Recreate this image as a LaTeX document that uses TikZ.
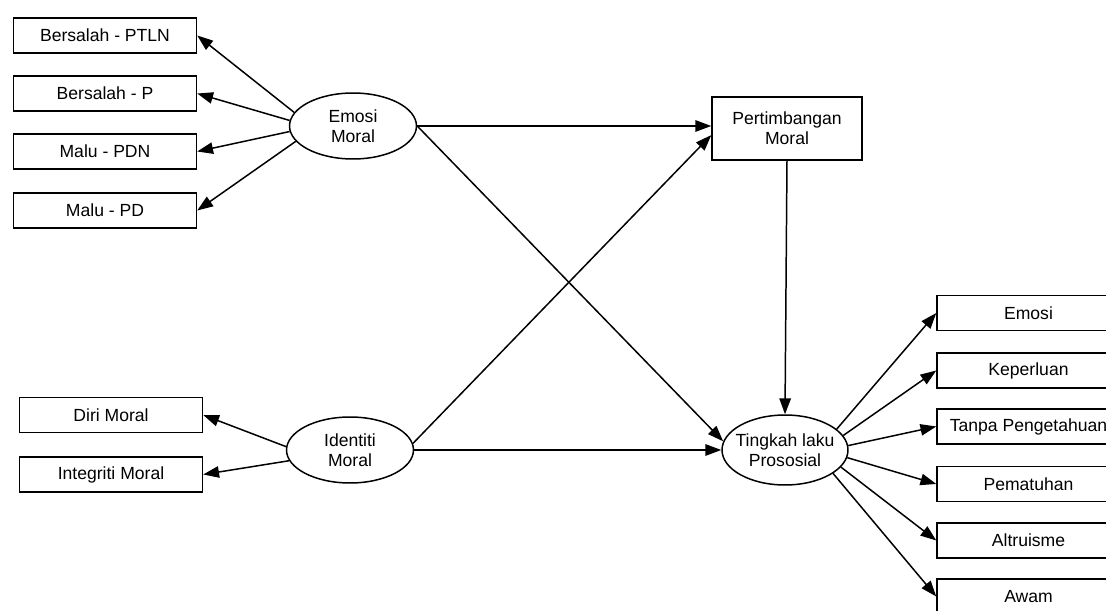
\documentclass[tikz,border=0pt]{standalone}
\usepackage{fontspec}
\setmainfont{Liberation Sans}
\usetikzlibrary{arrows.meta,shapes.geometric}

\begin{document}
\begin{tikzpicture}[x=0.02cm,y=-0.02cm,line width=0.85pt,
  every node/.style={font=\fontsize{10}{11.5}\selectfont},
  indicator/.style={draw, rectangle, minimum width=3.66cm, minimum height=0.7cm, inner sep=0pt},
  construct/.style={draw, ellipse, minimum width=2.54cm, minimum height=1.32cm, inner sep=0pt, align=center},
  link/.style={-{Triangle[length=9pt,width=6.5pt]}}]
\clip (0,0) rectangle (1106,611);
% latent constructs
\node [construct] (em) at (353,126) {Emosi\\Moral};
\node [construct] (im) at (350,450) {Identiti\\Moral};
\node [construct, minimum width=2.52cm, minimum height=1.4cm, inner xsep=-3.5pt] (tl) at (785,450) {Tingkah laku\\Prososial};
\node [draw, rectangle, minimum width=3cm, minimum height=1.26cm, inner sep=0pt, align=center] (pm) at (787,128.5) {Pertimbangan\\Moral};
% indicators of Emosi Moral
\node [indicator] (b1) at (105,35.5) {Bersalah - PTLN};
\node [indicator] (b2) at (105,93.5) {Bersalah - P};
\node [indicator] (b3) at (105,151.5) {Malu - PDN};
\node [indicator] (b4) at (105,210.5) {Malu - PD};
% indicators of Identiti Moral
\node [indicator] (d1) at (111,415) {Diri Moral};
\node [indicator] (d2) at (111,474.5) {Integriti Moral};
% indicators of Tingkah laku Prososial
\node [indicator] (t1) at (1028.5,313) {Emosi};
\node [indicator] (t2) at (1028.5,370.5) {Keperluan};
\node [indicator] (t3) at (1028.5,426.5) {Tanpa Pengetahuan};
\node [indicator] (t4) at (1028.5,484) {Pematuhan};
\node [indicator] (t5) at (1028.5,540.5) {Altruisme};
\node [indicator] (t6) at (1028.5,596.5) {Awam};
% loadings
\draw [link] (em.167) -- (b1.east);
\draw [link] (em.175) -- (b2.east);
\draw [link] (em.185) -- (b3.east);
\draw [link] (em.195) -- (b4.east);
\draw [link] (im.177) -- (d1.east);
\draw [link] (im.190) -- (d2.east);
\draw [link] (tl.22) -- (t1.west);
\draw [link] (tl.14) -- (t2.west);
\draw [link] (tl.4) -- (t3.west);
\draw [link] (tl.-7) -- (t4.west);
\draw [link] (tl.-17) -- (t5.west);
\draw [link] (tl.-26) -- (t6.west);
% structural paths
\draw [link] (em.east) -- (em.east -| pm.west);
\draw [link] (im.6) -- (pm.185);
\draw [link] (em.east) -- (tl.172);
\draw [link] (im.east) -- (tl.west);
\draw [link] (pm.south) -- (tl.north);
\end{tikzpicture}
\end{document}
